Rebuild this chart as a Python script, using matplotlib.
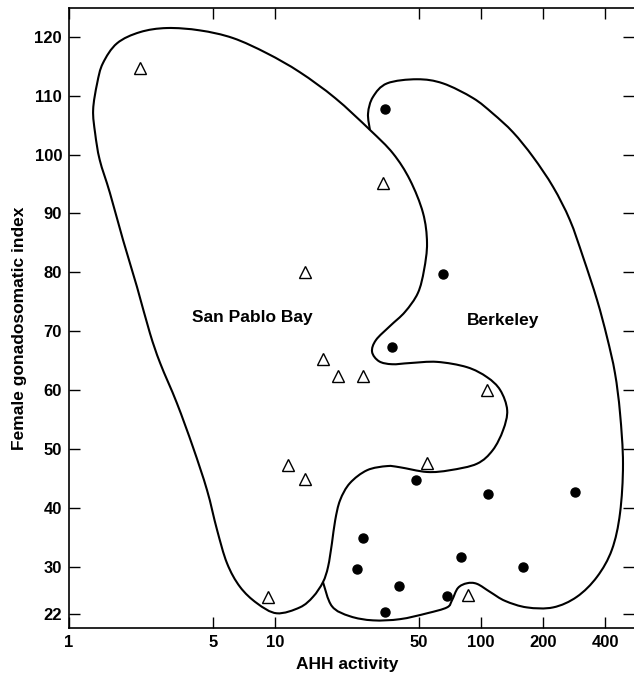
"""
plot.py - Female gonadosomatic index vs. AHH activity,
San Pablo Bay vs. Berkeley, with hand-drawn group outlines.
"""

import matplotlib
matplotlib.use("Agg")
import matplotlib.pyplot as plt
import numpy as np
from matplotlib.path import Path
from matplotlib.patches import PathPatch

# ── Data ───────────────────────────────────────────────────────────────────────

# San Pablo Bay fish (open triangles)
sp_ahh = [2.2, 33.4, 14.0, 17.1, 20.2, 26.7, 107, 11.6, 14.0, 54.7, 9.25, 86.5]
sp_gsi = [114.7, 95.2, 80.0, 65.3, 62.4, 62.4, 60.0, 47.3, 44.9, 47.6, 24.9, 25.2]

# Berkeley fish (filled circles)
bk_ahh = [34.2, 65.4, 37.0, 48.3, 108, 286, 26.7, 25.0, 80.0, 160, 40.0, 68.4, 34.2]
bk_gsi = [107.7, 79.7, 67.3, 44.7, 42.4, 42.7, 34.9, 29.6, 31.7, 30.0, 26.7, 25.0, 22.3]

# Hand-drawn outline round the San Pablo Bay group (closed)
sp_outline_ahh = [1.31, 1.37, 1.46, 1.71, 2.21, 2.99, 4.32, 6.25, 9.15, 13.2,
                  19.6, 28.9, 37.4, 45.2, 52.3, 54.7, 52.9, 49.4, 42.8, 36.2,
                  30.9, 29.6, 32.0, 37.0, 45.2, 61.2, 85.5, 107, 124, 134,
                  128, 114, 95.6, 70.7, 54.7, 40.4, 35.0, 28.0, 23.1, 20.7,
                  19.6, 18.9, 18.1, 17.1, 15.3, 13.2, 10.2, 8.18, 6.76, 5.85,
                  5.23, 4.68, 4.00, 3.34, 2.77, 2.47, 2.14, 1.83, 1.58, 1.41,
                  1.34]
sp_outline_gsi = [107.6, 112.1, 115.5, 118.9, 120.8, 121.5, 121.1, 119.8, 117.2, 114.0,
                  109.6, 104.2, 100.2, 95.7, 90.1, 85.0, 80.4, 76.5, 73.3, 70.9,
                  68.5, 66.5, 64.9, 64.4, 64.6, 64.8, 63.9, 62.2, 60.0, 56.6,
                  53.2, 49.8, 47.5, 46.4, 46.1, 46.9, 47.1, 46.4, 44.2, 41.3,
                  37.9, 34.0, 30.0, 27.4, 24.9, 23.1, 22.1, 23.8, 26.6, 30.6,
                  36.3, 43.0, 50.3, 57.8, 64.6, 69.7, 77.5, 85.5, 93.5, 99.1,
                  103.6]

# Outer edge of the Berkeley outline (shares its inner edge with San Pablo Bay)
bk_outline_ahh = [28.9, 28.3, 29.9, 35.0, 48.9, 65.4, 91.5, 114, 143, 179,
                  224, 270, 313, 366, 409, 447, 473, 489, 473, 432,
                  366, 292, 224, 167, 131, 111, 95.6, 85.5, 77.3, 72.3,
                  68.4, 54.7, 40.4, 29.9, 23.1, 18.9, 17.1]
bk_outline_gsi = [104.2, 107.0, 109.8, 112.1, 112.8, 112.1, 109.6, 107.0, 103.8, 99.6,
                  94.5, 88.9, 82.6, 75.3, 69.0, 62.9, 56.1, 47.5, 39.1, 32.9,
                  28.3, 24.9, 23.1, 23.1, 24.2, 25.7, 27.1, 27.2, 26.4, 24.3,
                  23.1, 22.1, 21.1, 20.9, 21.6, 23.3, 27.4]

x_ticks = [1, 5, 10, 50, 100, 200, 400]
y_ticks = [22, 30, 40, 50, 60, 70, 80, 90, 100, 110, 120]

FONT = "Liberation Sans"


def smooth_outline(xs, ys, closed):
    """Bezier path through the outline points (Catmull-Rom, in log-x space)."""
    pts = np.column_stack([np.log10(xs), ys])
    if closed:
        ext = np.vstack([pts[-1], pts, pts[0], pts[1]])
    else:
        ext = np.vstack([pts[0], pts, pts[-1]])
    verts = [ext[1]]
    codes = [Path.MOVETO]
    for i in range(1, len(ext) - 2):
        p0, p1, p2, p3 = ext[i - 1], ext[i], ext[i + 1], ext[i + 2]
        verts += [p1 + (p2 - p0) / 6, p2 - (p3 - p1) / 6, p2]
        codes += [Path.CURVE4] * 3
    verts = np.array(verts)
    verts[:, 0] = 10 ** verts[:, 0]
    return Path(verts, codes)


# ── Figure ─────────────────────────────────────────────────────────────────────

fig = plt.figure(figsize=(6.34, 6.79), dpi=100)
ax = fig.add_axes([0.1088, 0.0751, 0.8912, 0.9131])

ax.set_xscale("log")
ax.set_xlim(1, 553)
ax.set_ylim(19.6, 124.9)

for xs, ys, closed in [(sp_outline_ahh, sp_outline_gsi, True),
                       (bk_outline_ahh, bk_outline_gsi, False)]:
    ax.add_patch(PathPatch(smooth_outline(xs, ys, closed), facecolor="none",
                           edgecolor="black", linewidth=1.5, zorder=2))

ax.plot(sp_ahh, sp_gsi, linestyle="none", marker="^", markersize=8,
        markerfacecolor="white", markeredgecolor="black",
        markeredgewidth=1.0, zorder=3)
ax.plot(bk_ahh, bk_gsi, linestyle="none", marker="o", markersize=6.5,
        markerfacecolor="black", markeredgecolor="black", zorder=3)

ax.text(7.74, 72.4, "San Pablo Bay", ha="center", va="center",
        fontsize=12.5, fontweight="bold", family=FONT)
ax.text(128, 71.9, "Berkeley", ha="center", va="center",
        fontsize=12.5, fontweight="bold", family=FONT)

# ── Axes ───────────────────────────────────────────────────────────────────────

ax.set_xticks(x_ticks)
ax.set_xticklabels([str(t) for t in x_ticks])
ax.xaxis.set_minor_locator(matplotlib.ticker.NullLocator())
ax.set_yticks(y_ticks)

ax.tick_params(axis="both", which="major", direction="in", length=8,
               width=1.0, pad=5, top=True, right=True, labelsize=12)
for lbl in ax.get_xticklabels() + ax.get_yticklabels():
    lbl.set_fontweight("bold")
    lbl.set_family(FONT)

ax.set_xlabel("AHH activity", fontsize=12.5, fontweight="bold", family=FONT)
ax.set_ylabel("Female gonadosomatic index", fontsize=12.5,
              fontweight="bold", family=FONT)
ax.xaxis.set_label_coords(0.493, -0.047)
ax.yaxis.set_label_coords(-0.074, 0.484)

for name in ["left", "bottom", "top"]:
    ax.spines[name].set_linewidth(1.2)
ax.spines["right"].set_visible(False)

fig.savefig("out.png", dpi=100, facecolor="white")
plt.close(fig)
